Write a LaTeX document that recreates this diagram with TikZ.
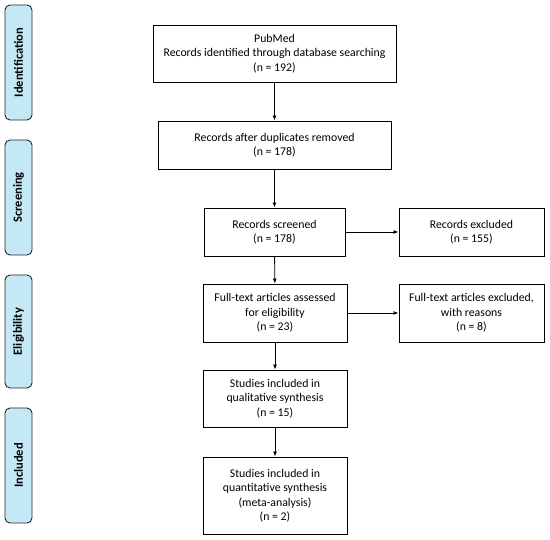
\documentclass[tikz,border=0pt]{standalone}
\usepackage{fontspec}
\setmainfont{Carlito}
\usetikzlibrary{arrows.meta}
\definecolor{sidefill}{HTML}{C5E8F7}
\begin{document}
\begin{tikzpicture}[x=1pt,y=-1pt,
  box/.style={draw=black,line width=0.9pt,fill=white,align=center,inner sep=0pt,
    font=\fontsize{11.8}{14.5}\selectfont},
  side/.style={draw=black!85,line width=0.9pt,fill=sidefill,rounded corners=5pt},
  sidetext/.style={rotate=90,font=\fontsize{12.5}{14}\selectfont\bfseries},
  arr/.style={-{Latex[length=5pt,width=4pt]},line width=0.9pt}]
\useasboundingbox (0,0) rectangle (550,540);
% side labels
\draw[side] (5,5) rectangle (32,120);
\node[sidetext] (sid) at (18.5,62.5) {Identification};
\draw[side] (5,140) rectangle (32,255);
\node[sidetext] (sscr) at (18.5,197.5) {Screening};
\draw[side] (5,275) rectangle (32,388);
\node[sidetext] (selig) at (18.5,331.5) {Eligibility};
\draw[side] (5,408) rectangle (32,523);
\node[sidetext] (sinc) at (18.5,465.5) {Included};
% boxes
\node[box,minimum width=243pt,minimum height=57pt] (b1) at (274.5,53.5)
  {PubMed\\Records identified through database searching\\(n = 192)};
\node[box,minimum width=233pt,minimum height=48pt] (b2) at (274.5,145)
  {Records after duplicates removed\\(n = 178)};
\node[box,minimum width=141pt,minimum height=48pt] (b3) at (274.5,232)
  {Records screened\\(n = 178)};
\node[box,minimum width=145pt,minimum height=48pt] (e1) at (471.5,232)
  {Records excluded\\(n = 155)};
\node[box,minimum width=144pt,minimum height=58pt] (b4) at (275,313)
  {Full-text articles assessed\\for eligibility\\(n = 23)};
\node[box,minimum width=145pt,minimum height=58pt] (e2) at (471.5,313)
  {Full-text articles excluded,\\with reasons\\(n = 8)};
\node[box,minimum width=144pt,minimum height=57pt] (b5) at (275,398.5)
  {Studies included in\\qualitative synthesis\\(n = 15)};
\node[box,minimum width=144pt,minimum height=77pt] (b6) at (275,495.5)
  {Studies included in\\quantitative synthesis\\(meta-analysis)\\(n = 2)};
% arrows
\draw[arr] (b1) -- (b2);
\draw[arr] (b2) -- (b3);
\draw[arr] (b3) -- (e1);
\draw[arr] (b3) -- (b4);
\draw[arr] (b4) -- (e2);
\draw[arr] (b4) -- (b5);
\draw[arr] (b5) -- (b6);
\end{tikzpicture}
\end{document}
